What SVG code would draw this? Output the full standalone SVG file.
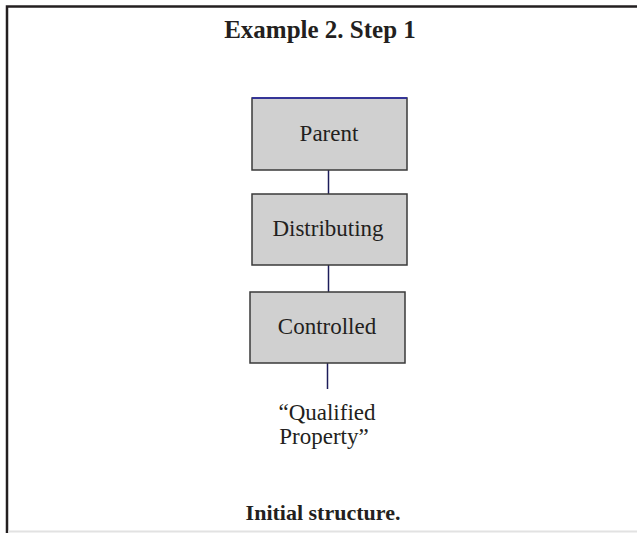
<svg xmlns="http://www.w3.org/2000/svg" width="637" height="533" viewBox="0 0 637 533">
  <style>
    .frame { stroke: #231f20; stroke-width: 2.5; fill: none; }
    .box { fill: #d0d0d0; stroke: #3a3a3a; stroke-width: 1.5; }
    .label { font-family: "Liberation Serif", "Times New Roman", serif; font-size: 23px; fill: #231f20; text-anchor: middle; }
    .bold { font-family: "Liberation Serif", "Times New Roman", serif; font-weight: bold; fill: #231f20; text-anchor: middle; }
    .link { stroke: #1c1c5a; stroke-width: 1.5; fill: none; }
  </style>
  <rect width="637" height="533" fill="#ffffff"/>
  <!-- outer frame: top and left rules, faint bottom rule -->
  <path class="frame" d="M7 533 V6.5 H637"/>
  <line x1="8" y1="531.5" x2="637" y2="531.5" stroke="#e2e2e2" stroke-width="2"/>

  <text class="bold" x="320" y="38" font-size="25">Example 2. Step 1</text>

  <g id="connectors">
    <line class="link" x1="328.5" y1="170" x2="328.5" y2="194"/>
    <line class="link" x1="328.5" y1="265" x2="328.5" y2="292"/>
    <line class="link" x1="327.5" y1="363" x2="327.5" y2="389"/>
  </g>

  <g id="parent">
    <rect class="box" x="252" y="98" width="155" height="72"/>
    <line x1="252" y1="98" x2="407" y2="98" stroke="#2626a8" stroke-width="1.5"/>
    <text class="label" x="329" y="141">Parent</text>
  </g>
  <g id="distributing">
    <rect class="box" x="252" y="194" width="155" height="71"/>
    <text class="label" x="328" y="236">Distributing</text>
  </g>
  <g id="controlled">
    <rect class="box" x="250" y="292" width="155" height="71"/>
    <text class="label" x="327" y="334">Controlled</text>
  </g>
  <g id="qualified-property">
    <text class="label" x="327" y="420" font-size="22">“Qualified</text>
    <text class="label" x="324" y="444" font-size="22">Property”</text>
  </g>

  <text class="bold" x="323" y="520" font-size="22">Initial structure.</text>
</svg>
